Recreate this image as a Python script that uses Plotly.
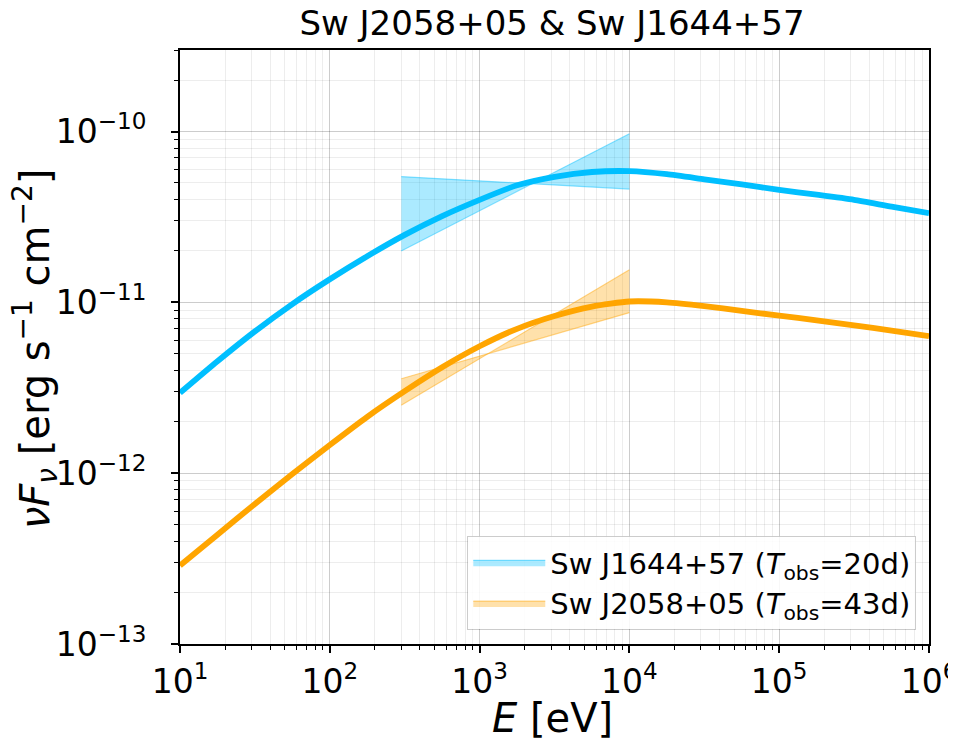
import numpy as np
import plotly.graph_objects as go

# ---------------- data ----------------
# model curves: log10(E / eV) and log10(nu F_nu / erg s^-1 cm^-2)
logE_curve = [1.0, 1.25, 1.5, 1.75, 2.0, 2.25, 2.5, 2.75, 3.0, 3.25, 3.5,
              3.75, 4.0, 4.25, 4.5, 4.75, 5.0, 5.25, 5.5, 5.75, 6.0]
logF_j1644 = [-11.53, -11.345, -11.17, -11.01, -10.865, -10.73, -10.605,
              -10.495, -10.40, -10.315, -10.265, -10.237, -10.232, -10.25,
              -10.28, -10.31, -10.342, -10.37, -10.40, -10.44, -10.478]
logF_j2058 = [-12.54, -12.36, -12.18, -12.005, -11.835, -11.67, -11.52,
              -11.38, -11.257, -11.155, -11.08, -11.025, -10.995, -11.0,
              -11.022, -11.05, -11.078, -11.105, -11.135, -11.165, -11.198]

# observed X-ray bow-ties: energy band edges [eV] and two power-law limits
band_E = [300.0, 1.0e4]
j1644_lim_a = [5.45e-11, 4.6e-11]
j1644_lim_b = [2.0e-11, 9.7e-11]
j2058_lim_a = [3.57e-12, 8.7e-12]
j2058_lim_b = [2.5e-12, 1.55e-11]

legend_j1644 = "Sw J1644+57 (<i>T</i><sub>obs</sub>=20d)"
legend_j2058 = "Sw J2058+05 (<i>T</i><sub>obs</sub>=43d)"

title_text = "Sw J2058+05 & Sw J1644+57"
x_title = "<i>E</i> [eV]"
y_title = ("<i>\u03bdF</i><sub><i>\u03bd</i></sub> [erg s<sup>\u22121</sup> "
           "cm<sup>\u22122</sup>]")

x_tickvals = [1e1, 1e2, 1e3, 1e4, 1e5, 1e6]
x_ticktext = ["10<sup>1</sup>", "10<sup>2</sup>", "10<sup>3</sup>",
              "10<sup>4</sup>", "10<sup>5</sup>", "10<sup>6</sup>"]
y_tickvals = [1e-13, 1e-12, 1e-11, 1e-10]
y_ticktext = ["10<sup>\u221213</sup>", "10<sup>\u221212</sup>",
              "10<sup>\u221211</sup>", "10<sup>\u221210</sup>"]

# ---------------- styling ----------------
BLUE = "rgb(0,191,255)"
ORANGE = "rgb(255,165,0)"
FONT = "DejaVu Sans"

E_curve = [10 ** v for v in logE_curve]
F_j1644 = [10 ** v for v in logF_j1644]
F_j2058 = [10 ** v for v in logF_j2058]

fig = go.Figure()

def add_band(lim_a, lim_b, rgb, name):
    r, g, b = rgb
    fig.add_trace(go.Scatter(x=band_E, y=lim_a, mode="lines",
                             line=dict(color=f"rgba({r},{g},{b},0.45)", width=1.2),
                             showlegend=False, hoverinfo="skip"))
    fig.add_trace(go.Scatter(x=band_E, y=lim_b, mode="lines", fill="tonexty",
                             fillcolor=f"rgba({r},{g},{b},0.33)",
                             line=dict(color=f"rgba({r},{g},{b},0.45)", width=1.2),
                             name=name, showlegend=True))

add_band(j1644_lim_a, j1644_lim_b, (0, 191, 255), legend_j1644)
add_band(j2058_lim_a, j2058_lim_b, (255, 165, 0), legend_j2058)

fig.add_trace(go.Scatter(x=E_curve, y=F_j1644, mode="lines",
                         line=dict(color=BLUE, width=5.8, shape="spline", smoothing=0.6),
                         showlegend=False))
fig.add_trace(go.Scatter(x=E_curve, y=F_j2058, mode="lines",
                         line=dict(color=ORANGE, width=5.8, shape="spline", smoothing=0.6),
                         showlegend=False))

minor_x = [k * 10.0 ** d for d in range(1, 6) for k in range(2, 10)]
minor_y = [k * 10.0 ** d for d in range(-13, -9) for k in range(2, 10)]

axis_common = dict(
    type="log", showline=True, linecolor="black", linewidth=2, mirror=True,
    ticks="outside", ticklen=7, tickwidth=1.5, tickcolor="black",
    showgrid=True, gridcolor="rgba(0,0,0,0.2)", gridwidth=1.3,
    zeroline=False, automargin=False,
    tickfont=dict(family=FONT, size=33, color="black"),
)

fig.update_xaxes(
    **axis_common, range=[1, 6], tickmode="array",
    tickvals=x_tickvals, ticktext=x_ticktext, ticklabeloverflow="allow",
    minor=dict(tickmode="array", tickvals=minor_x, ticks="outside", ticklen=4,
               tickwidth=1, tickcolor="black", showgrid=True,
               gridcolor="rgba(0,0,0,0.07)", gridwidth=1),
)
fig.update_yaxes(
    **axis_common, range=[-13, np.log10(3e-10)], tickmode="array",
    tickvals=y_tickvals, ticktext=y_ticktext, ticklabelstandoff=18,
    minor=dict(tickmode="array", tickvals=minor_y, ticks="outside", ticklen=4,
               tickwidth=1, tickcolor="black", showgrid=True,
               gridcolor="rgba(0,0,0,0.07)", gridwidth=1),
)

# axis titles as positioned text
fig.add_annotation(text=x_title, xref="paper", yref="paper", x=0.4967, y=-0.1246,
                   xanchor="center", yanchor="middle", showarrow=False,
                   font=dict(family=FONT, size=40, color="black"))
fig.add_annotation(text=y_title, xref="paper", yref="paper", x=-0.1936, y=0.4966,
                   xanchor="center", yanchor="middle", showarrow=False, textangle=-90,
                   font=dict(family=FONT, size=40, color="black"))

fig.update_layout(
    width=948, height=740,
    margin=dict(l=172, r=27, t=42, b=104),
    paper_bgcolor="white", plot_bgcolor="white",
    title=dict(text=title_text, x=0.5738, xanchor="center",
               y=0.979, yanchor="middle", xref="container",
               font=dict(family=FONT, size=34, color="black")),
    legend=dict(x=0.983, y=0.0236, xanchor="right", yanchor="bottom",
                traceorder="normal",
                bgcolor="rgba(255,255,255,0.85)", bordercolor="rgba(0,0,0,0.2)",
                borderwidth=1, font=dict(family=FONT, size=29, color="black"),
                itemwidth=72, tracegroupgap=0),
    showlegend=True,
)

fig.write_html("out.html")
